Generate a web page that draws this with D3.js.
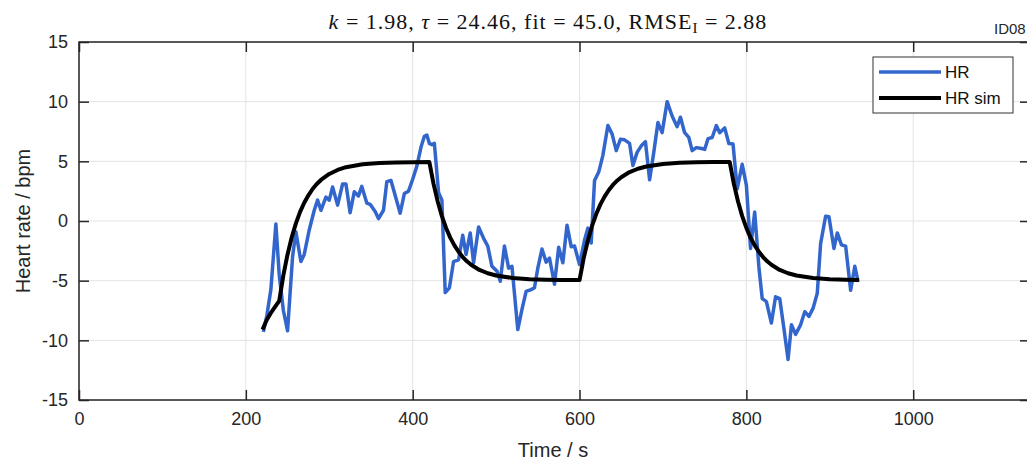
<!DOCTYPE html>
<html>
<head>
<meta charset="utf-8">
<script src="https://cdn.jsdelivr.net/npm/d3@7"></script>
<style>
  html, body { margin: 0; padding: 0; background: #fff; overflow: hidden; }
  svg { display: block; }
</style>
</head>
<body>
<svg id="chart" width="1027" height="461"></svg>
<script>
// ---- Data ----
const hrTime = [221,225,230,236,240,245,250,256,260,266,270,276,282,286,290,296,300,304,310,316,320,325,330,335,339,345,349,355,359,365,369,374,385,390,395,400,405,410,414,417,420,423,426,431,435,439,444,449,455,460,464,469,473,479,485,490,495,501,505,510,515,519,526,531,536,542,546,550,555,560,564,570,575,580,585,590,594,600,606,610,614,618,623,628,634,639,644,649,654,660,664,669,674,679,684,689,694,699,705,711,717,721,726,731,735,740,745,750,754,759,764,768,774,779,784,789,795,800,805,810,815,819,824,830,835,840,845,850,854,859,865,870,875,880,885,889,895,899,905,909,914,919,925,930,934];
const hrValue = [-9.3,-8.0,-5.75,-0.25,-4.5,-7.5,-9.2,-3.0,-0.9,-3.4,-2.8,-0.75,0.9,1.75,0.9,2.0,1.75,2.85,1.33,3.1,3.1,0.7,2.45,2.1,2.9,1.5,1.4,0.8,0.2,0.9,3.3,3.4,0.65,2.3,2.5,3.5,4.6,6.2,7.1,7.2,6.5,6.4,6.5,2.4,1.75,-6.0,-5.6,-3.4,-3.25,-1.2,-2.8,-1.0,-3.5,-0.5,-1.45,-2.1,-3.8,-4.2,-5.05,-2.1,-3.95,-3.8,-9.1,-7.4,-5.9,-5.75,-5.6,-3.95,-2.35,-3.45,-3.1,-5.3,-2.2,-3.5,-0.35,-2.15,-2.1,-3.65,-1.6,-0.6,-1.85,3.4,4.1,5.5,8.0,7.3,5.9,6.85,6.8,6.5,4.65,5.75,6.3,6.65,3.45,5.75,8.25,7.4,10.0,8.8,7.9,8.7,7.4,7.0,5.9,6.15,6.1,6.0,6.9,7.0,8.0,7.4,7.8,6.5,6.45,2.7,4.75,3.0,-2.3,0.75,-3.85,-6.5,-6.75,-8.55,-6.35,-6.5,-9.0,-11.6,-8.7,-9.5,-8.7,-7.6,-8.0,-7.3,-6.05,-1.9,0.4,0.35,-2.3,-1.0,-2.0,-2.1,-5.8,-3.8,-5.1];

const simTime = [220,225,230,235,240,245,250,255,260,265,270,275,280,285,290,300,310,320,340,360,380,400,420,425,430,435,440,445,450,455,460,465,470,480,490,500,520,540,560,580,600,605,610,615,620,625,630,635,640,645,650,660,670,680,700,720,740,760,780,785,790,795,800,805,810,815,820,825,830,840,850,860,880,900,920,935];
const simValue = [-9.1,-8.3,-7.7,-7.2,-6.7,-4.54,-2.8,-1.36,-0.2,0.76,1.53,2.15,2.68,3.10,3.44,3.94,4.28,4.51,4.75,4.86,4.91,4.93,4.94,3.11,1.63,0.41,-0.58,-1.39,-2.04,-2.58,-3.02,-3.38,-3.67,-4.10,-4.38,-4.57,-4.78,-4.88,-4.92,-4.94,-4.95,-3.11,-1.63,-0.41,0.58,1.39,2.04,2.58,3.02,3.38,3.67,4.10,4.38,4.57,4.78,4.88,4.92,4.94,4.95,3.11,1.63,0.41,-0.58,-1.39,-2.04,-2.58,-3.02,-3.38,-3.67,-4.10,-4.38,-4.57,-4.78,-4.88,-4.92,-4.94];

const xTicks = [0,200,400,600,800,1000];
const yTicks = [-15,-10,-5,0,5,10,15];
const seriesNames = ["HR", "HR sim"];
const idLabel = "ID08";

// ---- Layout ----
const svg = d3.select("#chart");
const L = 79, R = 1030, T = 42, B = 400;
const x = d3.scaleLinear().domain([0, 1140]).range([L, R]);
const y = d3.scaleLinear().domain([-15, 15]).range([B, T]);

const font = "'Liberation Sans', Arial, Helvetica, sans-serif";
const axisColor = "#262626";

// grid
const grid = svg.append("g");
grid.selectAll("line.vx").data(xTicks).join("line")
  .attr("x1", d => x(d)).attr("x2", d => x(d)).attr("y1", T).attr("y2", B)
  .attr("stroke", "#e3e3e3").attr("stroke-width", 1);
grid.selectAll("line.hy").data(yTicks).join("line")
  .attr("x1", L).attr("x2", R).attr("y1", d => y(d)).attr("y2", d => y(d))
  .attr("stroke", "#e3e3e3").attr("stroke-width", 1);

// lines
svg.append("clipPath").attr("id", "clip").append("rect")
  .attr("x", L).attr("y", T).attr("width", R - L).attr("height", B - T);
const hrData = hrTime.map((t, i) => [t, hrValue[i]]);
const simData = simTime.map((t, i) => [t, simValue[i]]);
const line = d3.line().x(d => x(d[0])).y(d => y(d[1]));
const plot = svg.append("g").attr("clip-path", "url(#clip)");
plot.append("path").datum(hrData).attr("d", line)
  .attr("fill", "none").attr("stroke", "#3366cc").attr("stroke-width", 3.5)
  .attr("stroke-linejoin", "round");
plot.append("path").datum(simData).attr("d", line)
  .attr("fill", "none").attr("stroke", "#000").attr("stroke-width", 4)
  .attr("stroke-linejoin", "round");

// axes
function styleAxis(g) {
  g.select(".domain").remove();
  g.selectAll(".tick line").attr("stroke", axisColor).attr("stroke-width", 1.5);
  g.selectAll(".tick text").attr("fill", axisColor).style("font-family", font).style("font-size", "18px");
}
svg.append("g").attr("transform", `translate(0,${B})`)
  .call(d3.axisBottom(x).tickValues(xTicks).tickSize(-10).tickPadding(12).tickFormat(d3.format("d")))
  .call(styleAxis);
svg.append("g").attr("transform", `translate(0,${T})`)
  .call(d3.axisTop(x).tickValues(xTicks).tickSize(-10).tickFormat(""))
  .call(styleAxis);
svg.append("g").attr("transform", `translate(${L},0)`)
  .call(d3.axisLeft(y).tickValues(yTicks).tickSize(-10).tickPadding(11).tickFormat(d => d < 0 ? "-" + Math.abs(d) : d))
  .call(styleAxis);
svg.append("g").attr("transform", `translate(${R},0)`)
  .call(d3.axisRight(y).tickValues(yTicks).tickSize(-10).tickFormat(""))
  .call(styleAxis);

// box
svg.append("rect").attr("x", L).attr("y", T).attr("width", R - L).attr("height", B - T)
  .attr("fill", "none").attr("stroke", axisColor).attr("stroke-width", 1.5);

// axis labels
svg.append("text").attr("x", 553).attr("y", 457).attr("text-anchor", "middle")
  .style("font-family", font).style("font-size", "20px").attr("fill", axisColor)
  .text("Time / s");
svg.append("text").attr("transform", `translate(30,${(T + B) / 2}) rotate(-90)`)
  .attr("text-anchor", "middle")
  .style("font-family", font).style("font-size", "20px").attr("fill", axisColor)
  .text("Heart rate / bpm");

// title
const title = svg.append("text").attr("x", 548).attr("y", 29).attr("text-anchor", "middle")
  .style("font-family", "'Liberation Serif', 'DejaVu Serif', serif").style("font-size", "22px")
  .style("letter-spacing", "1px")
  .attr("fill", "#111");
title.append("tspan").style("font-style", "italic").text("k");
title.append("tspan").text(" = 1.98, ");
title.append("tspan").style("font-style", "italic").text("τ");
title.append("tspan").text(" = 24.46, fit = 45.0, RMSE");
title.append("tspan").attr("dy", 4).style("font-size", "15px").text("I");
title.append("tspan").attr("dy", -4).text(" = 2.88");

svg.append("text").attr("x", 994).attr("y", 34)
  .style("font-family", font).style("font-size", "15px").attr("fill", axisColor)
  .text(idLabel);

// legend
const lg = svg.append("g");
lg.append("rect").attr("x", 873).attr("y", 57).attr("width", 140).attr("height", 56)
  .attr("fill", "#fff").attr("stroke", "#333").attr("stroke-width", 1);
const legColors = ["#3366cc", "#000"];
const legWidths = [3.5, 4];
seriesNames.forEach((name, i) => {
  const yy = 72 + i * 26;
  lg.append("line").attr("x1", 879).attr("x2", 941).attr("y1", yy).attr("y2", yy)
    .attr("stroke", legColors[i]).attr("stroke-width", legWidths[i]);
  lg.append("text").attr("x", 945).attr("y", yy + 6)
    .style("font-family", font).style("font-size", "17px").attr("fill", "#111")
    .text(name);
});
</script>
</body>
</html>
